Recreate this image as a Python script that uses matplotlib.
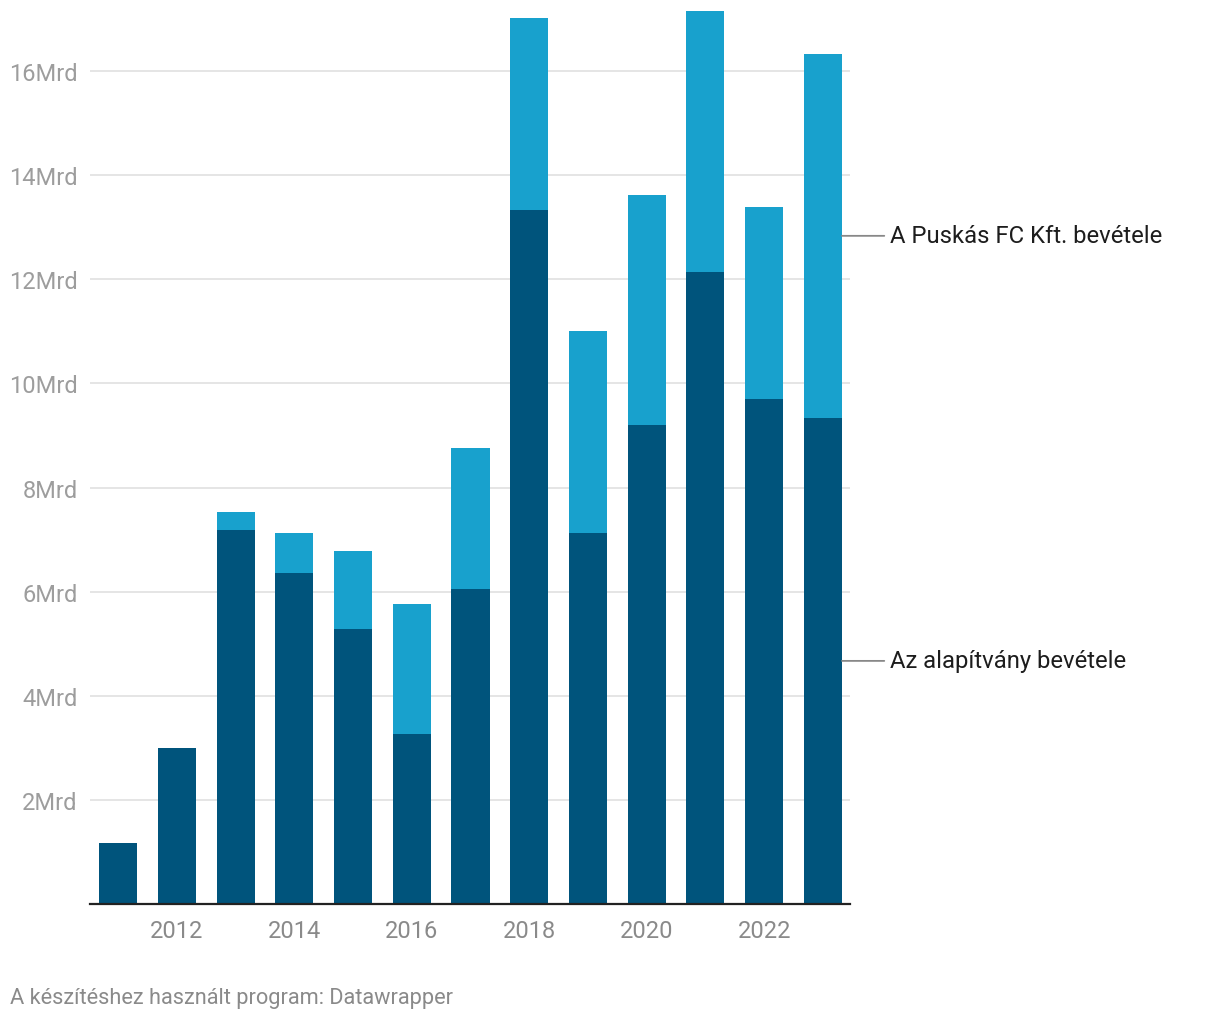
import matplotlib.pyplot as plt
import numpy as np

plt.rcParams['font.family'] = ['Roboto', 'DejaVu Sans']

years = [2011, 2012, 2013, 2014, 2015, 2016, 2017, 2018, 2019, 2020, 2021, 2022, 2023]
# Mrd Ft
alapitvany = [1.17, 3.0, 7.18, 6.36, 5.28, 3.27, 6.05, 13.33, 7.13, 9.20, 12.14, 9.70, 9.34]
puskas_total = [1.17, 3.0, 7.53, 7.13, 6.78, 5.76, 8.76, 17.02, 11.01, 13.62, 17.15, 13.39, 16.33]
puskas = [t - a for t, a in zip(puskas_total, alapitvany)]

yticks = [2, 4, 6, 8, 10, 12, 14, 16]
xticks = [2012, 2014, 2016, 2018, 2020, 2022]

dark = '#00547c'
light = '#18a1cd'

fig = plt.figure(figsize=(12.2, 10.2), dpi=100)
ax = fig.add_axes([90 / 1220, 1 - 905 / 1020, 760 / 1220, 898 / 1020])

w = 0.647
ax.bar(years, alapitvany, width=w, color=dark, zorder=2)
ax.bar(years, puskas, width=w, bottom=alapitvany, color=light, zorder=2)

ax.set_xlim(2010.523, 2023.46)
ax.set_ylim(0, 17.25)

ax.set_yticks(yticks)
ax.set_yticklabels([f'{v}Mrd' for v in yticks])
ax.set_xticks(xticks)
ax.set_xticklabels([str(v) for v in xticks])
ax.tick_params(axis='y', length=0, pad=9, labelsize=17, labelcolor='#9d9d9d')
ax.tick_params(axis='x', length=0, pad=10.5, labelsize=17, labelcolor='#8a8a8a')
ax.grid(axis='y', color='#e3e3e3', linewidth=1.3, zorder=0)

for s in ['top', 'right', 'left']:
    ax.spines[s].set_visible(False)
ax.spines['bottom'].set_color('#222222')
ax.spines['bottom'].set_linewidth(1.6)
ax.spines['bottom'].set_zorder(3)

# direct labels at the last bar
last = len(years) - 1
y_dark = alapitvany[last] / 2
y_light = alapitvany[last] + puskas[last] / 2
for yv, txt in [(y_light, 'A Puskás FC Kft. bevétele'), (y_dark, 'Az alapítvány bevétele')]:
    ax.annotate('', xy=(years[last] + w / 2, yv), xytext=(years[last] + w / 2 + 0.72, yv),
                arrowprops=dict(arrowstyle='-', color='#888888', lw=1.3, shrinkA=0, shrinkB=0),
                annotation_clip=False)
    ax.text(years[last] + w / 2 + 0.82, yv, txt, fontsize=17.2, color='#1d1d1d',
            va='center', ha='left', clip_on=False)

fig.text(10 / 1220, 1 - 999 / 1020, 'A készítéshez használt program: Datawrapper',
         fontsize=15.7, color='#8a8a8a', va='center', ha='left')

fig.savefig('out.png', dpi=100, facecolor='white')
